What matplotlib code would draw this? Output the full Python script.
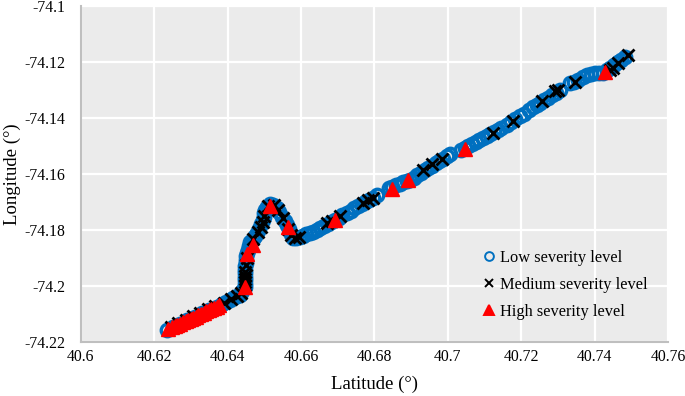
import matplotlib
matplotlib.use('Agg')
import matplotlib.pyplot as plt

plt.rcParams['font.family'] = ['Liberation Serif', 'DejaVu Serif']

# -- data (lat, lon) --
low_pts = [
    (40.6234, -74.2157), (40.6250, -74.2147), (40.6270, -74.2135), (40.6290, -74.2123),
    (40.6310, -74.2110), (40.6330, -74.2098), (40.6350, -74.2086), (40.6370, -74.2074),
    (40.6385, -74.2064), (40.6395, -74.2058), (40.6405, -74.2051), (40.6415, -74.2044),
    (40.6425, -74.2037), (40.6433, -74.2032), (40.6440, -74.2018), (40.6447, -74.2004),
    (40.6446, -74.1992), (40.6447, -74.1980), (40.6448, -74.1968), (40.6447, -74.1955),
    (40.6447, -74.1943), (40.6448, -74.1930), (40.6449, -74.1918), (40.6450, -74.1906),
    (40.6451, -74.1894), (40.6452, -74.1882), (40.6455, -74.1870), (40.6458, -74.1857),
    (40.6461, -74.1843), (40.6468, -74.1831), (40.6474, -74.1821), (40.6480, -74.1811),
    (40.6485, -74.1797), (40.6491, -74.1780), (40.6496, -74.1764), (40.6498, -74.1752),
    (40.6500, -74.1740), (40.6501, -74.1729), (40.6507, -74.1718), (40.6515, -74.1707),
    (40.6524, -74.1711), (40.6534, -74.1721), (40.6541, -74.1737), (40.6548, -74.1753),
    (40.6555, -74.1768), (40.6561, -74.1782), (40.6567, -74.1798), (40.6572, -74.1813),
    (40.6578, -74.1829), (40.6587, -74.1827), (40.6596, -74.1824), (40.6605, -74.1821),
    (40.6614, -74.1816), (40.6623, -74.1812), (40.6632, -74.1807), (40.6642, -74.1800),
    (40.6652, -74.1792), (40.6662, -74.1785), (40.6672, -74.1778), (40.6682, -74.1770),
    (40.6692, -74.1763), (40.6702, -74.1756), (40.6712, -74.1748), (40.6725, -74.1739),
    (40.6735, -74.1731), (40.6745, -74.1723), (40.6755, -74.1716), (40.6765, -74.1708),
    (40.6775, -74.1700), (40.6785, -74.1692), (40.6795, -74.1684), (40.6807, -74.1675),
    (40.6839, -74.1650), (40.6849, -74.1645), (40.6859, -74.1640), (40.6869, -74.1635),
    (40.6879, -74.1630), (40.6889, -74.1625), (40.6897, -74.1621), (40.6907, -74.1613),
    (40.6917, -74.1604), (40.6927, -74.1596), (40.6937, -74.1587), (40.6947, -74.1579),
    (40.6957, -74.1570), (40.6967, -74.1562), (40.6977, -74.1553), (40.6987, -74.1545),
    (40.6997, -74.1537), (40.7006, -74.1529), (40.7036, -74.1514), (40.7046, -74.1507),
    (40.7056, -74.1500), (40.7066, -74.1492), (40.7076, -74.1485), (40.7086, -74.1478),
    (40.7096, -74.1471), (40.7106, -74.1464), (40.7116, -74.1457), (40.7126, -74.1450),
    (40.7136, -74.1443), (40.7146, -74.1436), (40.7161, -74.1425), (40.7172, -74.1415),
    (40.7184, -74.1405), (40.7196, -74.1394), (40.7208, -74.1384), (40.7220, -74.1373),
    (40.7232, -74.1362), (40.7242, -74.1354), (40.7251, -74.1346), (40.7262, -74.1337),
    (40.7273, -74.1328), (40.7284, -74.1318), (40.7295, -74.1309), (40.7306, -74.1300),
    (40.7333, -74.1275), (40.7343, -74.1271), (40.7355, -74.1264), (40.7367, -74.1255),
    (40.7379, -74.1246), (40.7390, -74.1243), (40.7401, -74.1241), (40.7412, -74.1240),
    (40.7423, -74.1239), (40.7433, -74.1230), (40.7443, -74.1220), (40.7453, -74.1211),
    (40.7463, -74.1201), (40.7473, -74.1192), (40.7483, -74.1183),
]

medium_pts = [
    (40.6245, -74.2145), (40.6265, -74.2133), (40.6285, -74.2121), (40.6305, -74.2108),
    (40.6325, -74.2096), (40.6345, -74.2083), (40.6365, -74.2072), (40.6390, -74.2061),
    (40.6410, -74.2047), (40.6425, -74.2037), (40.6437, -74.2025), (40.6446, -74.1998),
    (40.6447, -74.1986), (40.6448, -74.1975), (40.6446, -74.1965), (40.6447, -74.1950),
    (40.6449, -74.1925), (40.6452, -74.1900), (40.6468, -74.1832), (40.6482, -74.1808),
    (40.6490, -74.1790), (40.6495, -74.1772), (40.6500, -74.1750), (40.6510, -74.1716),
    (40.6526, -74.1712), (40.6538, -74.1730), (40.6550, -74.1758), (40.6565, -74.1795),
    (40.6573, -74.1818), (40.6583, -74.1828), (40.6595, -74.1825), (40.6670, -74.1775),
    (40.6685, -74.1768), (40.6706, -74.1750), (40.6769, -74.1703), (40.6783, -74.1693),
    (40.6796, -74.1684), (40.6932, -74.1586), (40.6957, -74.1566), (40.6984, -74.1546),
    (40.7123, -74.1452), (40.7177, -74.1412), (40.7256, -74.1340), (40.7292, -74.1304),
    (40.7300, -74.1300), (40.7346, -74.1273), (40.7442, -74.1229), (40.7450, -74.1221),
    (40.7464, -74.1202), (40.7491, -74.1175),
]

high_pts = [
    (40.6237, -74.2155), (40.6248, -74.2148), (40.6256, -74.2144), (40.6263, -74.2139),
    (40.6270, -74.2135), (40.6278, -74.2130), (40.6285, -74.2126), (40.6292, -74.2121),
    (40.6299, -74.2117), (40.6306, -74.2113), (40.6313, -74.2109), (40.6320, -74.2104),
    (40.6327, -74.2100), (40.6334, -74.2096), (40.6341, -74.2091), (40.6348, -74.2087),
    (40.6355, -74.2083), (40.6362, -74.2078), (40.6370, -74.2074), (40.6377, -74.2069),
    (40.6447, -74.2002), (40.6452, -74.1884), (40.6469, -74.1854), (40.6515, -74.1716),
    (40.6564, -74.1789), (40.6692, -74.1764), (40.6848, -74.1654), (40.6891, -74.1621),
    (40.7047, -74.1511), (40.7428, -74.1236),
]

x_ticks = [40.6, 40.62, 40.64, 40.66, 40.68, 40.7, 40.72, 40.74, 40.76]
x_labels = ['40.6', '40.62', '40.64', '40.66', '40.68', '40.7', '40.72', '40.74', '40.76']
y_ticks = [-74.22, -74.2, -74.18, -74.16, -74.14, -74.12, -74.1]
y_labels = ['-74.22', '-74.2', '-74.18', '-74.16', '-74.14', '-74.12', '-74.1']

blue = '#0070C0'


def main():
    fig = plt.figure(figsize=(6.85, 3.96), dpi=100)
    ax = fig.add_axes([0.1182, 0.1364, 0.857, 0.8485])
    ax.set_facecolor('#EBEBEB')

    lat, lon = zip(*low_pts)
    ax.plot(lat, lon, ls='none', marker='o', ms=9, mfc='none', mec=blue, mew=2.4,
            label='Low severity level')
    lat, lon = zip(*medium_pts)
    ax.plot(lat, lon, ls='none', marker='x', ms=9, color='black', mew=2.0,
            label='Medium severity level')
    lat, lon = zip(*high_pts)
    ax.plot(lat, lon, ls='none', marker='^', ms=9.5, color='#FF0000', mec='#FF0000',
            label='High severity level')

    ax.set_xlim(40.6, 40.76)
    ax.set_ylim(-74.22, -74.1)
    ax.set_xticks(x_ticks)
    ax.set_xticklabels(x_labels)
    ax.set_yticks(y_ticks)
    ax.set_yticklabels(y_labels)
    ax.tick_params(length=0, labelsize=11.3)
    ax.tick_params(axis='x', pad=5)
    ax.tick_params(axis='y', pad=11)

    ax.grid(color='white', linewidth=1.6)
    ax.set_axisbelow(True)
    for s in ['top', 'right']:
        ax.spines[s].set_visible(False)
    for s in ['left', 'bottom']:
        ax.spines[s].set_color('#BFBFBF')
        ax.spines[s].set_linewidth(1.5)

    ax.set_xlabel('Latitude (°)', fontsize=13.5, labelpad=8)
    ax.set_ylabel('Longitude (°)', fontsize=13.5, labelpad=3)

    leg = ax.legend(loc='upper left', bbox_to_anchor=(0.685, 0.275), frameon=False,
                    fontsize=11.8, handlelength=0.7, handletextpad=0.35, labelspacing=0.68,
                    borderpad=0, borderaxespad=0, markerscale=0.7)
    for h in leg.legend_handles:
        h.set_markeredgewidth(1.4)

    fig.savefig('out.png', dpi=100)


if __name__ == '__main__':
    main()
